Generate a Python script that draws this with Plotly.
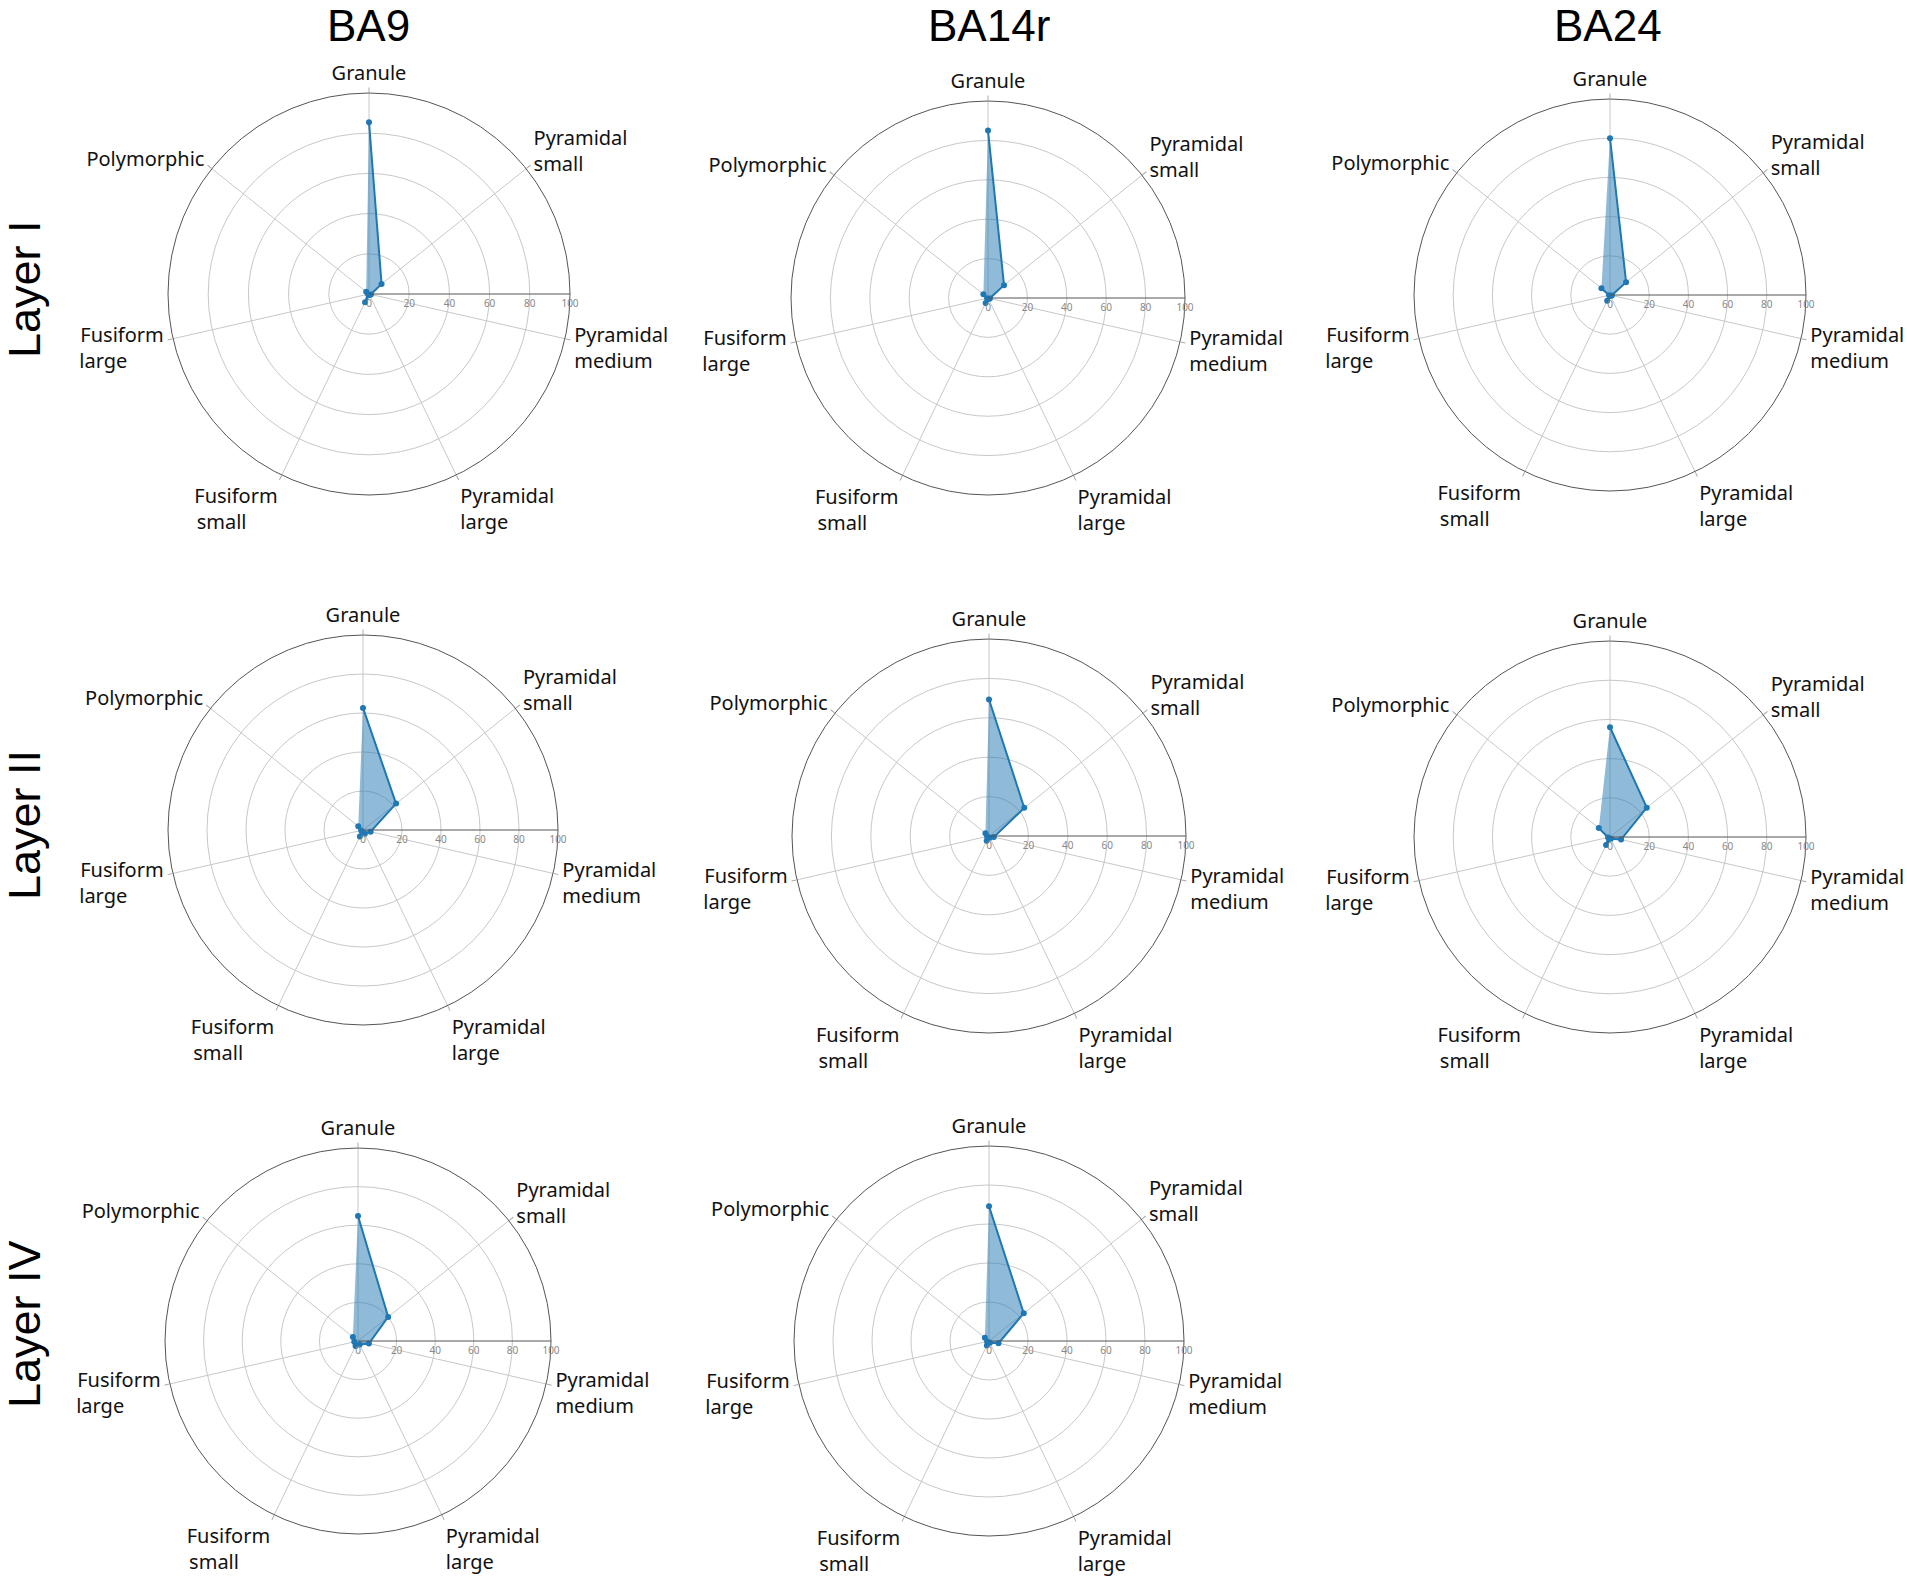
import plotly.graph_objects as go

NB = "\u00a0"

# cell categories (angular axis, clockwise from top); left-side labels padded so the
# two lines read left-aligned as in the reference
categories = ["Granule", "Pyramidal<br>small", "Pyramidal<br>medium", "Pyramidal<br>large",
              "Fusiform<br>small" + NB * 6, "Fusiform<br>large" + NB * 7, "Polymorphic"]

areas = ["BA9", "BA14r", "BA24"]
layers = ["Layer I", "Layer II", "Layer IV"]

# percentage of each cell type
ba9_l1 = [85.5, 8.0, 1.0, 0.5, 4.5, 0.5, 1.8]
ba14r_l1 = [85.0, 10.4, 1.0, 0.5, 2.8, 0.5, 3.0]
ba24_l1 = [80.0, 10.5, 1.0, 0.5, 3.3, 0.5, 5.6]
ba9_l2 = [62.6, 21.7, 4.0, 2.2, 3.7, 1.0, 3.1]
ba14r_l2 = [69.3, 22.9, 2.5, 1.0, 2.7, 1.0, 2.3]
ba24_l2 = [56.0, 24.0, 5.8, 1.0, 4.6, 1.0, 7.3]
ba9_l4 = [64.8, 20.0, 5.8, 2.0, 2.9, 2.0, 3.4]
ba14r_l4 = [69.1, 22.8, 5.0, 1.0, 2.5, 1.0, 2.7]

W, H = 1907, 1581

# (values, centre x px, centre y px, radius px)
panels = [
    (ba9_l1, 369, 294, 201),
    (ba14r_l1, 988, 298, 197),
    (ba24_l1, 1610, 295, 196),
    (ba9_l2, 363, 830, 195),
    (ba14r_l2, 989, 836, 197),
    (ba24_l2, 1610, 837, 196),
    (ba9_l4, 358, 1341, 193),
    (ba14r_l4, 989, 1341, 195),
]

def px(x):
    return x / W

def py(y):
    return 1 - y / H

fig = go.Figure()
layout = {}
for i, (vals, cx, cy, r) in enumerate(panels):
    key = "polar" if i == 0 else f"polar{i+1}"
    fig.add_trace(go.Scatterpolar(
        r=vals, theta=categories, mode="lines+markers", fill="toself",
        line=dict(color="#1f77b4", width=2),
        marker=dict(color="#1f77b4", size=6),
        fillcolor="rgba(31,119,180,0.5)",
        subplot=key, showlegend=False))
    layout[key] = dict(
        domain=dict(x=[px(cx - r), px(cx + r)], y=[py(cy + r), py(cy - r)]),
        bgcolor="white",
        angularaxis=dict(rotation=90, direction="clockwise",
                         linecolor="#555", linewidth=1,
                         gridcolor="#c8c8c8", ticks="outside", ticklen=5,
                         tickcolor="#aaa",
                         tickfont=dict(family="Noto Sans", size=20, color="#111")),
        radialaxis=dict(range=[0, 100], tickvals=[0, 20, 40, 60, 80, 100],
                        angle=0, showline=True, linecolor="#555",
                        gridcolor="#c8c8c8", ticks="",
                        tickfont=dict(family="Noto Sans", size=10, color="#888")),
    )

ann = []
for name, x in zip(areas, [368, 989, 1608]):
    ann.append(dict(text=name, x=px(x), y=py(25), xref="paper", yref="paper",
                    xanchor="center", yanchor="middle", showarrow=False,
                    font=dict(family="Liberation Sans", size=44, color="black")))
for name, y in zip(layers, [289, 825, 1324]):
    ann.append(dict(text=name, x=px(24), y=py(y), xref="paper", yref="paper",
                    xanchor="center", yanchor="middle", showarrow=False, textangle=-90,
                    font=dict(family="Liberation Sans", size=45, color="black")))

fig.update_layout(**layout, annotations=ann, width=W, height=H,
                  margin=dict(l=0, r=0, t=0, b=0),
                  paper_bgcolor="white", plot_bgcolor="white")

# drop the default page margin so the figure fills the window exactly
fig.write_html("out.html", config={"displayModeBar": False},
               post_script="document.body.style.margin='0';document.body.style.overflow='hidden';")
